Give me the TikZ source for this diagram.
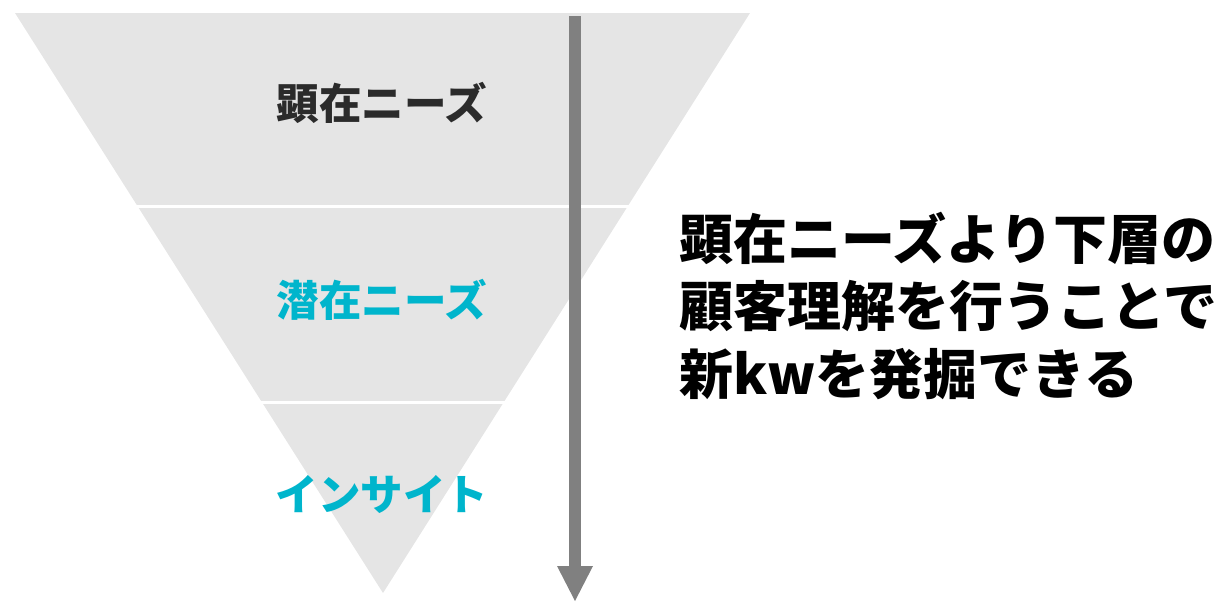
\documentclass[tikz,border=0pt]{standalone}
\usepackage{fontspec}
\newfontfamily\cjk{Noto Sans CJK JP}
\definecolor{funnelgray}{HTML}{E5E5E5}
\definecolor{arrowgray}{HTML}{808080}
\definecolor{darktext}{HTML}{2B2B2B}
\definecolor{cyantext}{HTML}{00B5CC}
\begin{document}
\begin{tikzpicture}[x=1pt,y=-1pt,
  layerlabel/.style={font=\cjk\bfseries\fontsize{42.5}{50}\selectfont, inner sep=0pt},
  notetext/.style={font=\cjk\bfseries\fontsize{54}{60}\selectfont, inner sep=0pt, anchor=west, text=black},
  sepline/.style={draw=white, line width=3pt}]
\useasboundingbox (0,0) rectangle (1229,606);
% funnel
\coordinate (tl) at (15,13);
\coordinate (tr) at (750,13);
\coordinate (apex) at (383,593);
\fill[funnelgray] (tl) -- (tr) -- (apex) -- cycle;
\coordinate (s1l) at (120,206);
\coordinate (s1r) at (650,206);
\coordinate (s2l) at (240,402);
\coordinate (s2r) at (530,402);
\draw[sepline] (s1l) -- (s1r);
\draw[sepline] (s2l) -- (s2r);
% labels
\node[layerlabel, text=darktext] (l1) at (382,103) {顕在ニーズ};
\node[layerlabel, text=cyantext] (l2) at (382,300) {潜在ニーズ};
\node[layerlabel, text=cyantext] (l3) at (382,494) {インサイト};
% arrow
\coordinate (atop) at (575,16);
\coordinate (abase) at (575,566);
\coordinate (atip) at (575,601);
\fill[arrowgray] ([xshift=-6pt]atop) rectangle ([xshift=6pt]abase);
\fill[arrowgray] ([xshift=-18pt]abase) -- ([xshift=18pt]abase) -- (atip) -- cycle;
% note
\node[notetext] (n1) at (679,238) {顕在ニーズより下層の};
\node[notetext] (n2) at (679,306) {顧客理解を行うことで};
\node[notetext] (n3) at (679,374) {新kwを発掘できる};
\end{tikzpicture}
\end{document}
